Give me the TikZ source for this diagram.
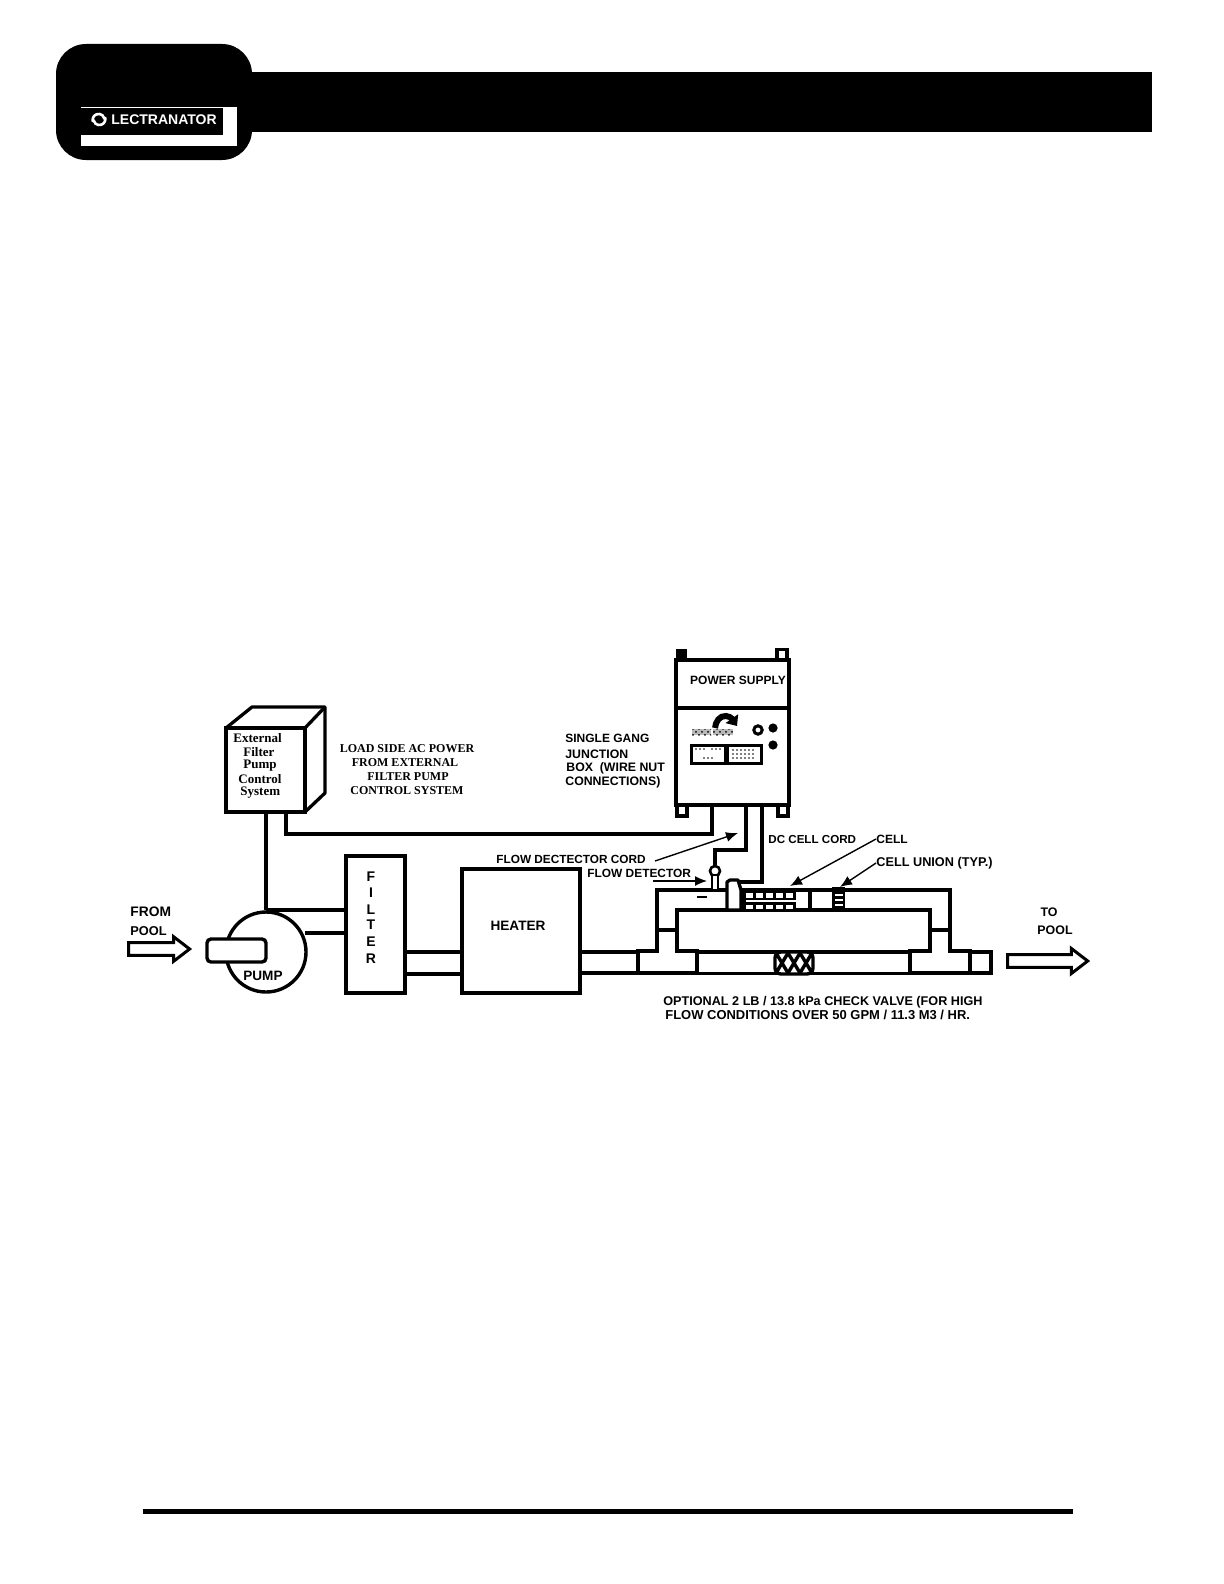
\documentclass[tikz,border=0pt]{standalone}
\usepackage{fontspec}
\setmainfont{Liberation Sans}
\newfontfamily\serifbold{Liberation Serif}
\usetikzlibrary{arrows.meta,patterns,shapes.arrows}
\tikzset{
  pipe/.style={line width=1.65pt,line join=miter},
  cord/.style={line width=1.65pt},
  leader/.style={line width=0.7pt,-{Latex[length=6pt,width=5pt]}},
  unit/.style={draw,line width=1.7pt,fill=white,inner sep=0pt,outer sep=0pt},
  lbl/.style={font=\fontsize{#1}{7}\selectfont\bfseries,inner sep=0pt},
  lbl/.default=6.2,
  lblserif/.style={font=\serifbold\fontsize{#1}{7}\selectfont\bfseries,inner sep=0pt},
  lblserif/.default=6,
  blockarrow/.style={draw,line width=1.5pt,fill=white,single arrow,inner sep=2.4pt,
    single arrow tip angle=75,single arrow head extend=3pt},
}
\begin{document}
\begin{tikzpicture}[x=0.5pt,y=-0.5pt]
\useasboundingbox (0,0) rectangle (1224,1584);
% page header
\fill (250,72) rectangle (1152,132);
\node[fill=black,rounded corners=15pt,minimum width=98pt,minimum height=58pt,inner sep=0pt] at (154,102) (tab) {};
\node[fill=white,minimum width=78pt,minimum height=19.5pt,inner sep=0pt] at (159,126.5) (logobg) {};
\node[fill=black,minimum width=71pt,minimum height=13.5pt,inner sep=0pt] at (152,121.5) (logo) {};
\node[text=white,font=\fontsize{7}{8}\selectfont\bfseries,inner sep=0pt] at (164,119.5) (logotxt) {LECTRANATOR};
\draw[white,line width=1.3pt] (105,117) arc (-20:170:6);
\draw[white,line width=1.3pt] (93,122) arc (160:350:6);
\fill (143,1508.5) rectangle (1073,1513.5);

% external control box
\draw[cord,fill=white,line join=round] (226,728) -- (252,707) -- (325,707) -- (325,793) -- (305,812) -- (305,728) -- cycle;
\draw[cord] (305,728) -- (325,707);
\node[unit,minimum width=39.5pt,minimum height=42pt] at (265.5,770) (ctrl) {};
\node[lblserif=6.5,anchor=west] at (233,738) (ctrl1) {External};
\node[lblserif=6.5,anchor=west] at (243,752) (ctrl2) {Filter};
\node[lblserif=6.5,anchor=west] at (243,766) (ctrl3) {Pump};
\node[lblserif=6.5,anchor=west] at (238,779) (ctrl4) {Control};
\node[lblserif=6.5,anchor=west] at (240,793) (ctrl5) {System};
\node[lblserif] at (407,749) (load1) {LOAD SIDE AC POWER};
\node[lblserif] at (405,763) (load2) {FROM EXTERNAL};
\node[lblserif] at (408,777) (load3) {FILTER PUMP};
\node[lblserif] at (407,791) (load4) {CONTROL SYSTEM};

% pump, filter, heater
\coordinate (ctrlP) at (266,812);
\coordinate (ctrlAC) at (286,812);
\coordinate (pumpT) at (266,910);
\coordinate (acA) at (286,834);
\coordinate (acB) at (712,834);
\coordinate (acC) at (712,805);
\node[unit,minimum width=29.5pt,minimum height=68.5pt] at (375.5,924.5) (filter) {};
\node[unit,minimum width=59pt,minimum height=62pt] at (521,931) (heater) {};
\node[unit,circle,minimum size=40pt] at (266,952) (pump) {};
\node[unit,rounded corners=2pt,minimum width=29.5pt,minimum height=11.5pt] at (236.5,950.5) (grip) {};
\draw[cord] (ctrlP) -- (pumpT);
\draw[cord] (ctrlAC) -- (acA) -- (acB) -- (acC);
\draw[pipe] (pumpT) -- (346,910);
\draw[pipe] (305,933) -- (346,933);
\draw[pipe] (405,952) -- (462,952);
\draw[pipe] (405,974) -- (462,974);
\node[lbl=6.9,anchor=west] at (130,912) (from1) {FROM};
\node[lbl=6.4,anchor=west] at (130,931) (from2) {POOL};
\node[lbl=6.8] at (263,976) (pumptxt) {PUMP};
\foreach \nm/\ltr/\ly in {fa/F/877,fb/I/893,fc/L/910,fd/T/925,fe/E/942,ff/R/959}
  \node[lbl=7] at (371,\ly) (\nm) {\ltr};
\node[lbl=6.8] at (518,926) (heatertxt) {HEATER};
\node[blockarrow,minimum width=12pt,minimum height=30.5pt] at (155,949) (inarrow) {};
\node[blockarrow,minimum width=12.5pt,minimum height=40pt] at (1043.5,961) (outarrow) {};
\node[lbl] at (1049,912) (to1) {TO};
\node[lbl] at (1055,930) (to2) {POOL};

% power supply
\fill (676,649) rectangle (687,660);
\draw[line width=1.6pt] (777,649.5) rectangle (787,660);
\draw[line width=1.6pt] (677,805) rectangle (687,816);
\draw[line width=1.6pt] (778,805) rectangle (788,816);
\node[unit,minimum width=56.5pt,minimum height=72.5pt] at (732.5,732.5) (psu) {};
\draw[cord] (psu.west |- 0,708) -- (psu.east |- 0,708);
\node[lbl=6] at (738,680) (psutxt) {POWER SUPPLY};
\node[lbl=6,anchor=west] at (565,738) (box1) {SINGLE GANG};
\node[lbl=6.15,anchor=west] at (565,754) (box2) {JUNCTION};
\node[lbl=6.15,anchor=west] at (566,768) (box3) {BOX \ (WIRE NUT};
\node[lbl=6.15,anchor=west] at (565,782) (box4) {CONNECTIONS)};
\draw[line width=3pt,-{Triangle[length=4.5pt,width=7.5pt]}] (715,728) to[out=85,in=175] (726,716) to[out=-5,in=125] (737,726);
\fill[gray!55] (692,729) rectangle (711,735);
\fill[pattern=crosshatch dots] (692,729) rectangle (711,735);
\fill[gray!55] (713,729) rectangle (733,735);
\fill[pattern=crosshatch dots] (713,729) rectangle (733,735);
\node[draw,circle,line width=1.5pt,minimum size=4.2pt,inner sep=0pt] at (758,730) (knob) {};
\node[fill,circle,minimum size=4.6pt,inner sep=0pt] at (773,728) (leda) {};
\node[fill,circle,minimum size=4.6pt,inner sep=0pt] at (773,745) (ledb) {};
\node[draw,line width=1.5pt,minimum width=17pt,minimum height=9pt,inner sep=0pt] at (708,754) (meterL) {};
\node[draw,line width=1.5pt,minimum width=17pt,minimum height=9pt,inner sep=0pt] at (744,754) (meterR) {};
\foreach \dx in {696,700,704,712,716,720} \fill (\dx,749) circle[radius=0.4pt];
\foreach \dx in {704,708,712} \fill (\dx,758) circle[radius=0.4pt];
\foreach \dx in {733,737,741,745,749,753} {
  \fill (\dx,750) circle[radius=0.4pt];
  \fill (\dx,754) circle[radius=0.4pt];
  \fill (\dx,758) circle[radius=0.4pt];
}

% cords to the cell and the flow detector
\coordinate (psuF) at (746,805);
\coordinate (psuD) at (762,805);
\coordinate (flowA) at (746,850);
\coordinate (flowB) at (715,850);
\coordinate (flowC) at (715,867);
\coordinate (dcA) at (762,882);
\coordinate (dcB) at (740,882);
\draw[cord] (psuF) -- (flowA) -- (flowB) -- (flowC);
\draw[cord] (psuD) -- (dcA) -- (dcB);

% pipe run
\draw[pipe] (heater.east |- 0,952) -- (638,952);
\draw[pipe] (heater.east |- 0,973) -- (638,973);
\draw[pipe,fill=white] (638,951) -- (657,951) -- (657,890) -- (950,890) -- (950,951) -- (970,951) -- (970,973) -- (638,973) -- cycle;
\draw[pipe,fill=white] (697,973) -- (697,951) -- (677,951) -- (677,910) -- (930,910) -- (930,951) -- (910,951) -- (910,973);
\draw[pipe] (697,952) -- (910,952);
\draw[pipe] (657,930) -- (677,930);
\draw[pipe] (930,930) -- (950,930);
\draw[pipe] (970,952) -- (991,952) -- (991,973) -- (970,973);
\draw[line width=1.5pt] (697,973) -- (910,973);
% union and cell
\draw[pipe,fill=white,line join=round] (727,910) -- (727,882) -- (730,880) -- (738,880) -- (741,890) -- (741,910) -- cycle;
\node[fill,minimum width=27pt,minimum height=11pt,inner sep=0pt] at (769,900) (cell) {};
\draw[pipe] (810,890) -- (810,910);
\foreach \sx in {746,756,766,776,786} {
  \fill[white] (\sx,892.5) rectangle ++(7,5);
  \fill[white] (\sx,904.5) rectangle ++(7,4);
}
\draw[white,line width=1.2pt] (746,901) -- (797,901);
\fill (832,887) rectangle (845,912);
\foreach \sy in {895,900,905} \fill[white] (835,\sy-1) rectangle (843,\sy+0.6);
% check valve
\node[unit,rounded corners=3pt,minimum width=19pt,minimum height=11pt] at (794,963) (valve) {};
\foreach \vx in {776,788,800} \draw[line width=1.7pt] (\vx,953) -- (\vx+12,973) (\vx,973) -- (\vx+12,953);
% flow detector
\node[draw,circle,line width=1.3pt,minimum size=5pt,inner sep=0pt] at (715,871) (sensor) {};
\draw[line width=1.2pt,fill=white] (712,875) rectangle (718,890);
\node[fill,minimum width=5pt,minimum height=1.2pt,inner sep=0pt] at (702,897) (minus) {};

% labels with leaders
\node[lbl=5.9,anchor=west] at (496,859) (cordtxt) {FLOW DECTECTOR CORD};
\node[lbl=5.95,anchor=west] at (587,873) (flowtxt) {FLOW DETECTOR};
\node[lbl=5.8,anchor=west] at (768,839) (dctxt) {DC CELL CORD};
\node[lbl=6,anchor=west] at (876,839) (celltxt) {CELL};
\node[lbl=6.35,anchor=west] at (876,863) (uniontxt) {CELL UNION (TYP.)};
\coordinate (cordtail) at (655,861);
\coordinate (cordtip) at (738,833);
\coordinate (flowtail) at (653,881);
\coordinate (flowtip) at (707,881);
\coordinate (celltip) at (790,886);
\coordinate (uniontip) at (840,887);
\draw[leader] (cordtail) -- (cordtip);
\draw[leader] (flowtail) -- (flowtip);
\draw[leader] (celltxt.west) -- (celltip);
\draw[leader] (uniontxt.west) -- (uniontip);
\node[lbl=6.32,anchor=west] at (663,1002) (opt1) {OPTIONAL 2 LB / 13.8 kPa CHECK VALVE (FOR HIGH};
\node[lbl=6.48,anchor=west] at (665,1015) (opt2) {FLOW CONDITIONS OVER 50 GPM / 11.3 M3 / HR.};
\end{tikzpicture}
\end{document}
